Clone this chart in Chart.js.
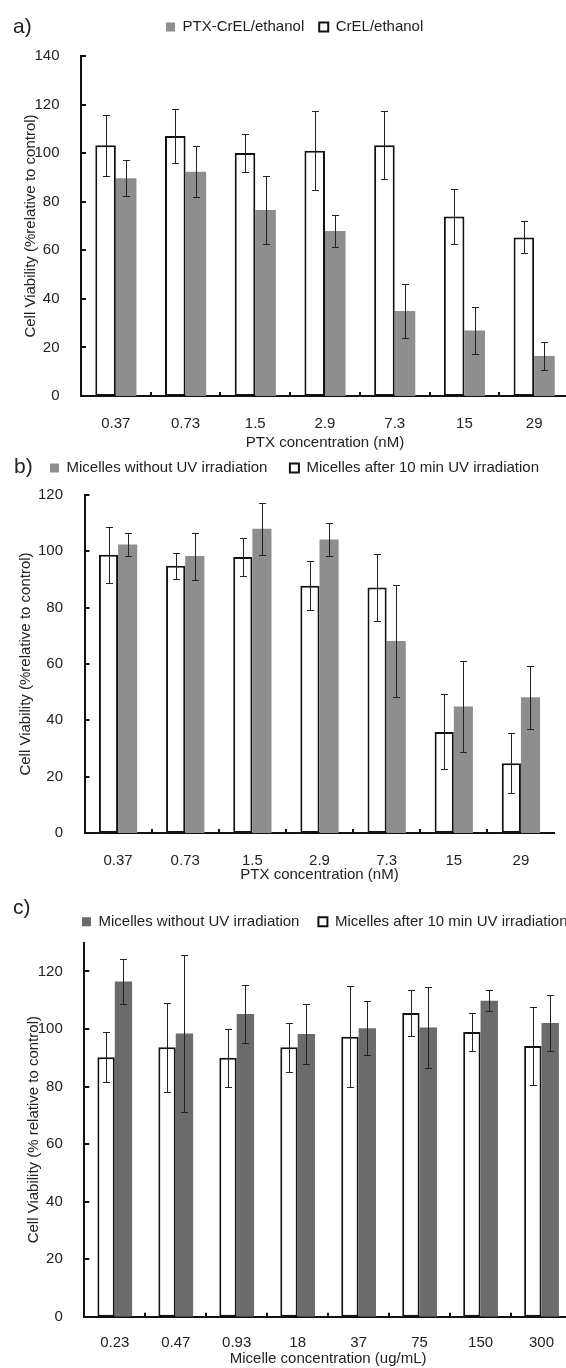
<!DOCTYPE html>
<html>
<head>
<meta charset="utf-8">
<script src="https://cdn.jsdelivr.net/npm/chart.js@4.4.1/dist/chart.umd.min.js"></script>
<style>
  html, body { margin: 0; padding: 0; background: #fff; }
  body { width: 566px; height: 1368px; overflow: hidden; position: relative; font-family: "Liberation Sans", Arial, sans-serif; }
  canvas.panel { position: absolute; left: 0; }
  .tag { position: absolute; font-size: 21px; line-height: 1; color: #222; }
</style>
</head>
<body>
<canvas id="chartA" class="panel" width="580" height="470" style="top:0px"></canvas>
<canvas id="chartB" class="panel" width="580" height="460" style="top:440px"></canvas>
<canvas id="chartC" class="panel" width="580" height="500" style="top:880px"></canvas>
<div class="tag" style="left:13px;top:15px">a)</div>
<div class="tag" style="left:14px;top:455px">b)</div>
<div class="tag" style="left:13px;top:896px">c)</div>
<script>
// a) PTX in CrEL/ethanol
const ptxLabels = ['0.37', '0.73', '1.5', '2.9', '7.3', '15', '29'];
const crelVals = [103.2, 107.1, 100.1, 101.0, 103.2, 73.9, 65.3];
const crelErr = [12.7, 11.0, 7.9, 16.3, 14.0, 11.5, 6.6];
const ptxCrelVals = [89.7, 92.3, 76.6, 67.9, 35.0, 27.0, 16.5];
const ptxCrelErr = [7.5, 10.5, 14.1, 6.6, 11.0, 9.5, 5.9];

// b) PTX-loaded micelles
const uvVals = [98.8, 94.9, 98.0, 87.8, 87.2, 35.9, 24.8];
const uvErr = [9.9, 4.6, 6.6, 8.7, 12.0, 13.3, 10.6];
const noUvVals = [102.4, 98.3, 108.0, 104.2, 68.2, 44.9, 48.2];
const noUvErr = [4.0, 8.3, 9.3, 6.0, 20.0, 16.2, 11.2];

// c) empty micelles
const micLabels = ['0.23', '0.47', '0.93', '18', '37', '75', '150', '300'];
const micUvVals = [90.2, 93.7, 90.0, 93.7, 97.3, 105.6, 99.0, 94.1];
const micUvErr = [8.6, 15.5, 10.0, 8.5, 17.5, 8.1, 6.7, 13.7];
const micNoUvVals = [116.5, 98.4, 105.2, 98.3, 100.3, 100.5, 109.8, 102.1];
const micNoUvErr = [7.9, 27.2, 10.2, 10.4, 9.5, 14.2, 3.7, 9.6];

Chart.defaults.font.family = '"Liberation Sans", Arial, sans-serif';
Chart.defaults.font.size = 15;
Chart.defaults.color = '#222';

const errorBars = {
    id: 'errorBars',
    afterDatasetsDraw(chart) {
        const ctx = chart.ctx;
        const y = chart.scales.y;
        ctx.save();
        ctx.strokeStyle = '#222';
        ctx.lineWidth = 1;
        chart.data.datasets.forEach((ds, di) => {
            if (!ds.errors) return;
            chart.getDatasetMeta(di).data.forEach((bar, i) => {
                const v = ds.data[i], e = ds.errors[i];
                const yt = Math.round(y.getPixelForValue(v + e)) + 0.5;
                const yb = Math.round(y.getPixelForValue(v - e)) + 0.5;
                const x = Math.round(bar.x) + 0.5;
                ctx.beginPath();
                ctx.moveTo(x, yt); ctx.lineTo(x, yb);
                ctx.moveTo(x - 3.5, yt); ctx.lineTo(x + 3.5, yt);
                ctx.moveTo(x - 3.5, yb); ctx.lineTo(x + 3.5, yb);
                ctx.stroke();
            });
        });
        ctx.restore();
    }
};

// tick marks pointing into the plot, like the excel original
const innerTicks = {
    id: 'innerTicks',
    afterDraw(chart) {
        const { ctx, chartArea: a, scales: { x, y } } = chart;
        ctx.save();
        ctx.strokeStyle = '#111';
        ctx.lineWidth = 2;
        ctx.beginPath();
        y.ticks.forEach(t => {
            const py = Math.round(y.getPixelForValue(t.value));
            ctx.moveTo(a.left, py); ctx.lineTo(a.left + 5, py);
        });
        for (let i = 1; i < x.ticks.length; i++) {
            const px = Math.round((x.getPixelForTick(i - 1) + x.getPixelForTick(i)) / 2);
            ctx.moveTo(px, a.bottom); ctx.lineTo(px, a.bottom - 4);
        }
        ctx.stroke();
        ctx.restore();
    }
};

// put the legend where it sits in the figure
const legendPos = {
    id: 'legendPos',
    afterLayout(chart, args, opts) {
        const lg = chart.legend;
        if (!lg || opts.x == null) return;
        const pad = lg.options.labels.padding;
        const w = lg.right - lg.left, h = lg.bottom - lg.top;
        lg.left = opts.x - pad;
        lg.right = lg.left + w;
        lg.top = opts.y - pad - 7.5;
        lg.bottom = lg.top + h;
    }
};

function makePanel(canvasId, p) {
    const chart = new Chart(document.getElementById(canvasId), {
        type: 'bar',
        data: {
            labels: p.labels,
            datasets: [
                { label: p.whiteName, data: p.white, errors: p.whiteErr, backgroundColor: '#fff',
                  borderColor: '#111', borderWidth: 2, borderSkipped: false },
                { label: p.fillName, data: p.fill, errors: p.fillErr, backgroundColor: p.fillColor, borderWidth: 0 }
            ]
        },
        options: {
            responsive: false,
            animation: false,
            events: [],
            layout: { padding: { left: 0, right: p.padRight, top: 0, bottom: p.padBottom } },
            datasets: { bar: { barPercentage: 1, categoryPercentage: p.catPct } },
            plugins: {
                legend: {
                    reverse: true,
                    align: 'start',
                    labels: { boxWidth: 9, boxHeight: 9, padding: p.legendGap, color: '#222', font: { size: 15 } }
                },
                tooltip: { enabled: false },
                legendPos: { x: p.legendX, y: p.legendY }
            },
            scales: {
                x: {
                    grid: { display: false },
                    border: { color: '#111', width: 2 },
                    ticks: { padding: p.xTickPad, color: '#222' },
                    title: { display: true, text: p.xTitle, color: '#222', padding: { top: 0, bottom: p.xTitlePad } },
                    afterFit: s => { s.height = 60; }
                },
                y: {
                    min: 0,
                    max: p.yMax,
                    grid: { display: false },
                    border: { color: '#111', width: 2 },
                    ticks: { stepSize: 20, padding: 13.5, color: '#222' },
                    title: { display: true, text: p.yTitle, color: '#222', padding: { top: p.yTitlePad, bottom: 0 } },
                    afterBuildTicks: s => { s.ticks = s.ticks.filter(t => t.value % 20 === 0); },
                    afterFit: s => { s.width = p.left; }
                }
            }
        },
        plugins: [errorBars, innerTicks, legendPos]
    });
    const dy = p.top - chart.chartArea.top;
    if (Math.abs(dy) > 0.2) {
        chart.options.layout.padding.top += dy;
        chart.update();
    }
    return chart;
}

makePanel('chartA', {
    labels: ptxLabels,
    white: crelVals, whiteErr: crelErr, whiteName: 'CrEL/ethanol',
    fill: ptxCrelVals, fillErr: ptxCrelErr, fillName: 'PTX-CrEL/ethanol', fillColor: '#8e8e8e',
    catPct: 0.59, yMax: 140, left: 81, top: 56, padRight: 11, padBottom: 14,
    xTickPad: 11, xTitlePad: 4, yTitlePad: 22,
    xTitle: 'PTX concentration (nM)', yTitle: 'Cell Viability (%relative to control)',
    legendX: 166, legendY: 27, legendGap: 15
});

makePanel('chartB', {
    labels: ptxLabels,
    white: uvVals, whiteErr: uvErr, whiteName: 'Micelles after 10 min UV irradiation',
    fill: noUvVals, fillErr: noUvErr, fillName: 'Micelles without UV irradiation', fillColor: '#8e8e8e',
    catPct: 0.57, yMax: 120, left: 84.5, top: 55, padRight: 25.5, padBottom: 7,
    xTickPad: 11, xTitlePad: 9, yTitlePad: 17,
    xTitle: 'PTX concentration (nM)', yTitle: 'Cell Viability (%relative to control)',
    legendX: 50, legendY: 28, legendGap: 22.5
});

makePanel('chartC', {
    labels: micLabels,
    white: micUvVals, whiteErr: micUvErr, whiteName: 'Micelles after 10 min UV irradiation',
    fill: micNoUvVals, fillErr: micNoUvErr, fillName: 'Micelles without UV irradiation', fillColor: '#6b6b6b',
    catPct: 0.57, yMax: 130, left: 84.3, top: 62.7, padRight: 8, padBottom: 3.3,
    xTickPad: 9.5, xTitlePad: 8.7, yTitlePad: 25,
    xTitle: 'Micelle concentration (ug/mL)', yTitle: 'Cell Viability (% relative to control)',
    legendX: 82, legendY: 41.7, legendGap: 19
});
</script>
</body>
</html>
